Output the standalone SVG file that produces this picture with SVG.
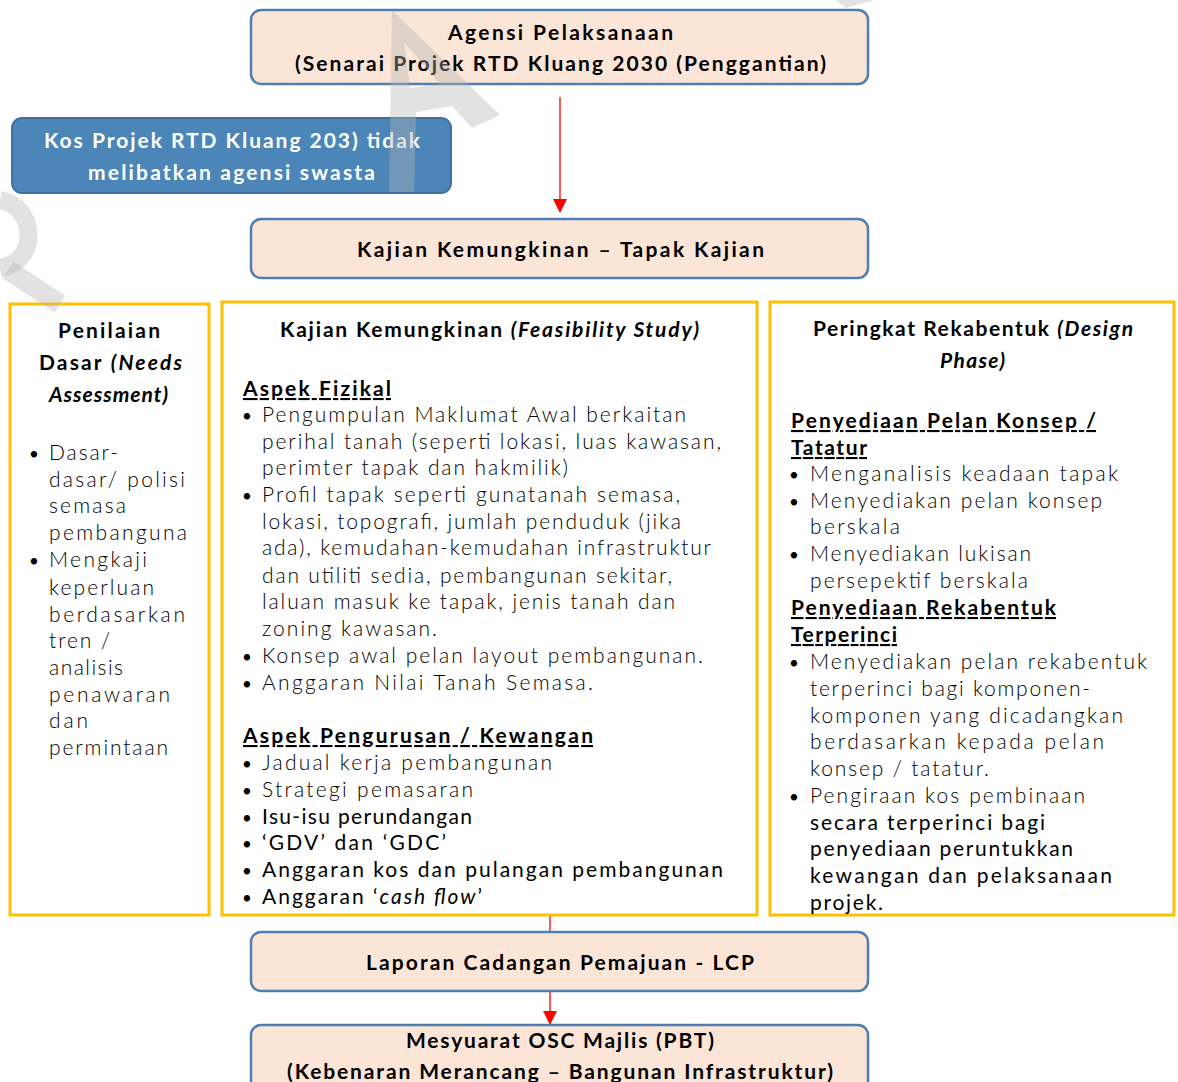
<svg xmlns="http://www.w3.org/2000/svg" width="1178" height="1082" viewBox="0 0 1178 1082">
<defs>
<style>
.pbox{fill:#fbe5d6;stroke:#4f7fb0;stroke-width:2.5}
.bbox{fill:#4c86b8;stroke:#3f72a2;stroke-width:2}
.ybox{fill:#ffffff;stroke:#ffc000;stroke-width:3}
.t{font-family:Lato,"Liberation Sans",sans-serif;font-size:21px;fill:#000}
.hb{font-weight:700}
.bi{font-weight:700;font-style:italic}
.lt{font-weight:300;fill:#000}
.dk{font-weight:400;fill:#000}
.wt{fill:#ffffff;font-weight:700}
.ul{text-decoration:underline}
.bul{font-family:Lato,"Liberation Sans",sans-serif;font-size:17px;fill:#000}
.conn{stroke:#ff0000;stroke-width:1.3;fill:none}
.wm{fill:#b4b4b4;opacity:0.38}
</style>
<marker id="ah" markerUnits="userSpaceOnUse" markerWidth="14" markerHeight="16" refX="13" refY="7" orient="auto">
<path d="M0,0 L14,7 L0,14 Z" fill="#ff0000"/>
</marker>
</defs>
<rect width="1178" height="1082" fill="#ffffff"/>

<g id="connectors">
<line class="conn" x1="560" y1="97" x2="560" y2="212" marker-end="url(#ah)"/>
<line class="conn" x1="550" y1="916" x2="550" y2="932"/>
<line class="conn" x1="550" y1="991" x2="550" y2="1024" marker-end="url(#ah)"/>
</g>

<g id="node-agensi">
<rect class="pbox" x="251" y="10" width="617" height="74" rx="10"/>
<text class="t hb" x="448" y="40" textLength="225" lengthAdjust="spacing">Agensi Pelaksanaan</text>
<text class="t hb" x="295" y="71" textLength="531" lengthAdjust="spacing">(Senarai Projek RTD Kluang 2030 (Penggantian)</text>
</g>

<g id="node-kos">
<rect class="bbox" x="12" y="118" width="439" height="75" rx="10"/>
<text class="t wt" x="44" y="148" textLength="376" lengthAdjust="spacing">Kos Projek RTD Kluang 203) tidak</text>
<text class="t wt" x="88" y="180" textLength="287" lengthAdjust="spacing">melibatkan agensi swasta</text>
</g>

<g id="node-kajian-tapak">
<rect class="pbox" x="251" y="219" width="617" height="59" rx="10"/>
<text class="t hb" x="357" y="257" textLength="407" lengthAdjust="spacing">Kajian Kemungkinan – Tapak Kajian</text>
</g>

<g id="node-penilaian">
<rect class="ybox" x="10" y="304" width="199" height="611"/>
<text class="t hb" x="58" y="338" textLength="102" lengthAdjust="spacing">Penilaian</text>
<text class="t hb" x="39" y="370" textLength="143" lengthAdjust="spacing">Dasar <tspan class="bi">(Needs</tspan></text>
<text class="t bi" x="49" y="402" textLength="119" lengthAdjust="spacing">Assessment)</text>
<text class="bul" x="29" y="460">•</text>
<text class="bul" x="29" y="567">•</text>
<text class="t lt" x="49" y="460" textLength="69" lengthAdjust="spacing">Dasar-</text>
<text class="t lt" x="49" y="487" textLength="136" lengthAdjust="spacing">dasar/ polisi</text>
<text class="t lt" x="49" y="513" textLength="77" lengthAdjust="spacing">semasa</text>
<text class="t lt" x="49" y="540" textLength="138" lengthAdjust="spacing">pembanguna</text>
<text class="t lt" x="49" y="567" textLength="98" lengthAdjust="spacing">Mengkaji</text>
<text class="t lt" x="49" y="595" textLength="105" lengthAdjust="spacing">keperluan</text>
<text class="t lt" x="49" y="622" textLength="136" lengthAdjust="spacing">berdasarkan</text>
<text class="t lt" x="49" y="648" textLength="61" lengthAdjust="spacing">tren /</text>
<text class="t lt" x="49" y="675" textLength="74" lengthAdjust="spacing">analisis</text>
<text class="t lt" x="49" y="702" textLength="121" lengthAdjust="spacing">penawaran</text>
<text class="t lt" x="49" y="728" textLength="39" lengthAdjust="spacing">dan</text>
<text class="t lt" x="49" y="755" textLength="119" lengthAdjust="spacing">permintaan</text>
</g>

<g id="node-kajian-kemungkinan">
<rect class="ybox" x="222" y="302" width="535" height="613"/>
<text class="t hb" x="280" y="337" textLength="419" lengthAdjust="spacing">Kajian Kemungkinan <tspan class="bi">(Feasibility Study)</tspan></text>
<text class="t hb ul" x="243" y="396" textLength="148" lengthAdjust="spacing">Aspek Fizikal</text>
<text class="bul" x="242" y="422">•</text>
<text class="bul" x="242" y="502">•</text>
<text class="bul" x="242" y="663">•</text>
<text class="bul" x="242" y="690">•</text>
<text class="t lt" x="262" y="422" textLength="424" lengthAdjust="spacing">Pengumpulan Maklumat Awal berkaitan</text>
<text class="t lt" x="262" y="449" textLength="459" lengthAdjust="spacing">perihal tanah (seperti lokasi, luas kawasan,</text>
<text class="t lt" x="262" y="475" textLength="306" lengthAdjust="spacing">perimter tapak dan hakmilik)</text>
<text class="t lt" x="262" y="502" textLength="418" lengthAdjust="spacing">Profil tapak seperti gunatanah semasa,</text>
<text class="t lt" x="262" y="529" textLength="419" lengthAdjust="spacing">lokasi, topografi, jumlah penduduk (jika</text>
<text class="t lt" x="262" y="555" textLength="449" lengthAdjust="spacing">ada), kemudahan-kemudahan infrastruktur</text>
<text class="t lt" x="262" y="583" textLength="410" lengthAdjust="spacing">dan utiliti sedia, pembangunan sekitar,</text>
<text class="t lt" x="262" y="609" textLength="413" lengthAdjust="spacing">laluan masuk ke tapak, jenis tanah dan</text>
<text class="t lt" x="262" y="636" textLength="175" lengthAdjust="spacing">zoning kawasan.</text>
<text class="t lt" x="262" y="663" textLength="441" lengthAdjust="spacing">Konsep awal pelan layout pembangunan.</text>
<text class="t lt" x="262" y="690" textLength="331" lengthAdjust="spacing">Anggaran Nilai Tanah Semasa.</text>
<text class="t hb ul" x="243" y="743" textLength="350" lengthAdjust="spacing">Aspek Pengurusan / Kewangan</text>
<text class="bul" x="242" y="770">•</text>
<text class="bul" x="242" y="797">•</text>
<text class="bul" x="242" y="824">•</text>
<text class="bul" x="242" y="850">•</text>
<text class="bul" x="242" y="877">•</text>
<text class="bul" x="242" y="904">•</text>
<text class="t lt" x="262" y="770" textLength="290" lengthAdjust="spacing">Jadual kerja pembangunan</text>
<text class="t lt" x="262" y="797" textLength="211" lengthAdjust="spacing">Strategi pemasaran</text>
<text class="t dk" x="262" y="824" textLength="210" lengthAdjust="spacing">Isu-isu perundangan</text>
<text class="t dk" x="262" y="850" textLength="184" lengthAdjust="spacing">‘GDV’ dan ‘GDC’</text>
<text class="t dk" x="262" y="877" textLength="461" lengthAdjust="spacing">Anggaran kos dan pulangan pembangunan</text>
<text class="t dk" x="262" y="904" textLength="220" lengthAdjust="spacing">Anggaran ‘<tspan font-style="italic">cash flow</tspan>’</text>
</g>

<g id="node-rekabentuk">
<rect class="ybox" x="770" y="302" width="404" height="613"/>
<text class="t hb" x="813" y="336" textLength="320" lengthAdjust="spacing">Peringkat Rekabentuk <tspan class="bi">(Design</tspan></text>
<text class="t bi" x="940" y="368" textLength="65" lengthAdjust="spacing">Phase)</text>
<text class="t hb ul" x="791" y="428" textLength="305" lengthAdjust="spacing">Penyediaan Pelan Konsep /</text>
<text class="t hb ul" x="791" y="455" textLength="76" lengthAdjust="spacing">Tatatur</text>
<text class="bul" x="789" y="481">•</text>
<text class="bul" x="789" y="508">•</text>
<text class="bul" x="789" y="561">•</text>
<text class="t lt" x="810" y="481" textLength="308" lengthAdjust="spacing">Menganalisis keadaan tapak</text>
<text class="t lt" x="810" y="508" textLength="292" lengthAdjust="spacing">Menyediakan pelan konsep</text>
<text class="t lt" x="810" y="534" textLength="90" lengthAdjust="spacing">berskala</text>
<text class="t lt" x="810" y="561" textLength="221" lengthAdjust="spacing">Menyediakan lukisan</text>
<text class="t lt" x="810" y="588" textLength="218" lengthAdjust="spacing">persepektif berskala</text>
<text class="t hb ul" x="791" y="615" textLength="265" lengthAdjust="spacing">Penyediaan Rekabentuk</text>
<text class="t hb ul" x="791" y="642" textLength="106" lengthAdjust="spacing">Terperinci</text>
<text class="bul" x="789" y="669">•</text>
<text class="bul" x="789" y="803">•</text>
<text class="t lt" x="810" y="669" textLength="337" lengthAdjust="spacing">Menyediakan pelan rekabentuk</text>
<text class="t lt" x="810" y="696" textLength="280" lengthAdjust="spacing">terperinci bagi komponen-</text>
<text class="t lt" x="810" y="723" textLength="313" lengthAdjust="spacing">komponen yang dicadangkan</text>
<text class="t lt" x="810" y="749" textLength="294" lengthAdjust="spacing">berdasarkan kepada pelan</text>
<text class="t lt" x="810" y="776" textLength="179" lengthAdjust="spacing">konsep / tatatur.</text>
<text class="t lt" x="810" y="803" textLength="275" lengthAdjust="spacing">Pengiraan kos pembinaan</text>
<text class="t dk" x="810" y="830" textLength="235" lengthAdjust="spacing">secara terperinci bagi</text>
<text class="t dk" x="810" y="856" textLength="263" lengthAdjust="spacing">penyediaan peruntukkan</text>
<text class="t dk" x="810" y="883" textLength="302" lengthAdjust="spacing">kewangan dan pelaksanaan</text>
<text class="t dk" x="810" y="910" textLength="73" lengthAdjust="spacing">projek.</text>
</g>

<g id="node-lcp">
<rect class="pbox" x="251" y="932" width="617" height="59" rx="10"/>
<text class="t hb" x="366" y="970" textLength="388" lengthAdjust="spacing">Laporan Cadangan Pemajuan - LCP</text>
</g>

<g id="node-osc">
<rect class="pbox" x="251" y="1025" width="617" height="70" rx="10"/>
<text class="t hb" x="406" y="1048" textLength="308" lengthAdjust="spacing">Mesyuarat OSC Majlis (PBT)</text>
<text class="t hb" x="287" y="1079" textLength="546" lengthAdjust="spacing">(Kebenaran Merancang – Bangunan Infrastruktur)</text>
</g>

<g id="watermark">
<path class="wm" fill-rule="evenodd" d="M392,10 L500,115 L472,128 L452,106 L416,112 L414,192 L389,192 Z M404,42 L440,84 L410,88 Z"/>
<path d="M0,200 C36,206 40,262 0,268" fill="none" stroke="#b4b4b4" stroke-opacity="0.38" stroke-width="18"/>
<path d="M8,270 L60,304" fill="none" stroke="#b4b4b4" stroke-opacity="0.38" stroke-width="20"/>
<path class="wm" d="M836,0 L874,0 L846,8 Z"/>
</g>
</svg>
